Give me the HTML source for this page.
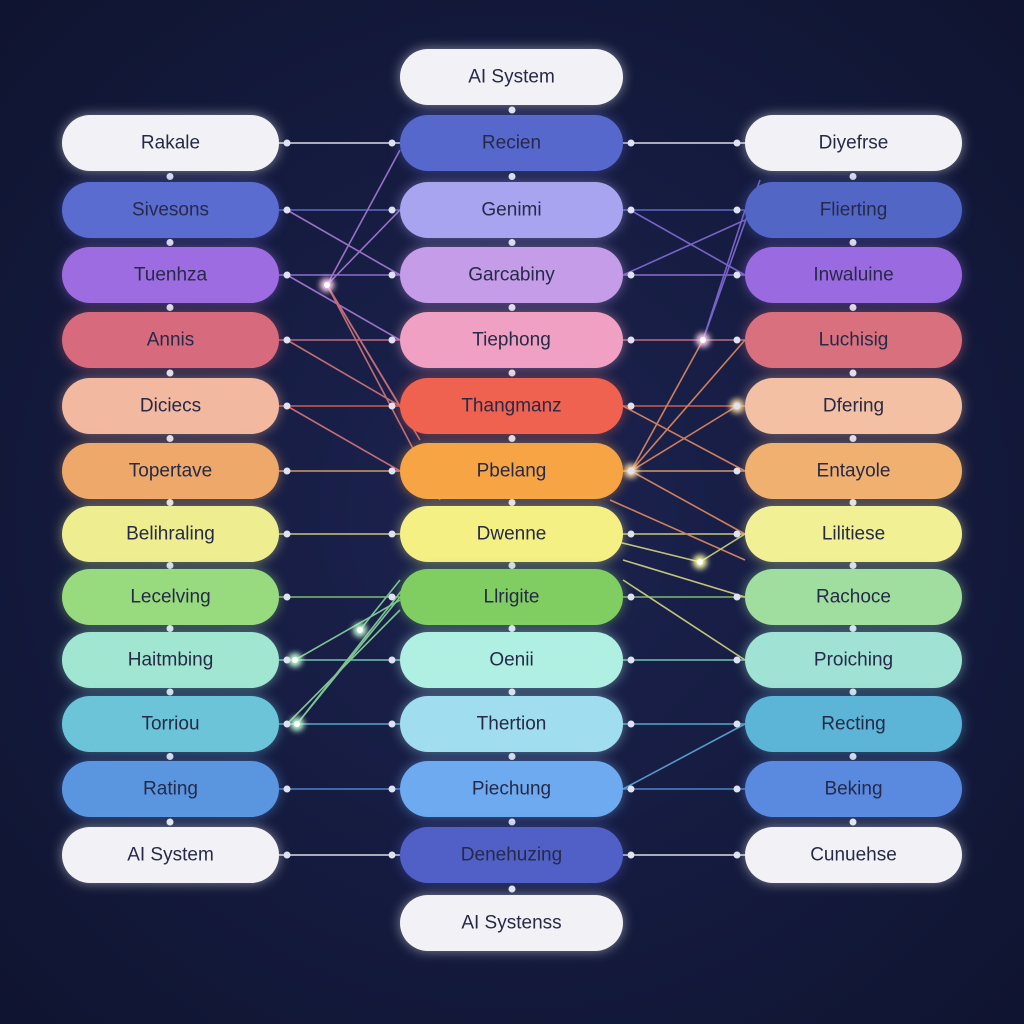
<!DOCTYPE html>
<html><head><meta charset="utf-8"><style>
html,body{margin:0;padding:0;background:#131937;}
svg{display:block}
text{font-family:"Liberation Sans",sans-serif;font-size:19px;fill:#262a48;text-anchor:middle;dominant-baseline:central}
</style></head><body>
<svg width="1024" height="1024" viewBox="0 0 1024 1024" xmlns="http://www.w3.org/2000/svg">
<defs>
<radialGradient id="bg" cx="50%" cy="50%" r="70%"><stop offset="0" stop-color="#1c2350"/><stop offset="1" stop-color="#0f1430"/></radialGradient>
<filter id="gl" x="-20%" y="-50%" width="140%" height="200%"><feGaussianBlur stdDeviation="6"/></filter>
<filter id="dg" x="-200%" y="-200%" width="500%" height="500%"><feGaussianBlur stdDeviation="3"/></filter>
</defs>
<rect width="1024" height="1024" fill="url(#bg)"/>
<g id="lines" stroke-width="1.6" fill="none" opacity="0.85">
<line x1="279" y1="143" x2="400" y2="143" stroke="#ffffff"/>
<line x1="623" y1="143" x2="745" y2="143" stroke="#ffffff"/>
<line x1="279" y1="210" x2="400" y2="210" stroke="#6a78e0"/>
<line x1="623" y1="210" x2="745" y2="210" stroke="#6a78e0"/>
<line x1="279" y1="275" x2="400" y2="275" stroke="#a47ae8"/>
<line x1="623" y1="275" x2="745" y2="275" stroke="#a47ae8"/>
<line x1="279" y1="340" x2="400" y2="340" stroke="#e07890"/>
<line x1="623" y1="340" x2="745" y2="340" stroke="#e07890"/>
<line x1="279" y1="406" x2="400" y2="406" stroke="#f06a50"/>
<line x1="623" y1="406" x2="745" y2="406" stroke="#f06a50"/>
<line x1="279" y1="471" x2="400" y2="471" stroke="#f0b070"/>
<line x1="623" y1="471" x2="745" y2="471" stroke="#f0b070"/>
<line x1="279" y1="534" x2="400" y2="534" stroke="#e8e880"/>
<line x1="623" y1="534" x2="745" y2="534" stroke="#e8e880"/>
<line x1="279" y1="597" x2="400" y2="597" stroke="#90d870"/>
<line x1="623" y1="597" x2="745" y2="597" stroke="#90d870"/>
<line x1="279" y1="660" x2="400" y2="660" stroke="#80e0c8"/>
<line x1="623" y1="660" x2="745" y2="660" stroke="#80e0c8"/>
<line x1="279" y1="724" x2="400" y2="724" stroke="#60c0e0"/>
<line x1="623" y1="724" x2="745" y2="724" stroke="#60c0e0"/>
<line x1="279" y1="789" x2="400" y2="789" stroke="#5a98e0"/>
<line x1="623" y1="789" x2="745" y2="789" stroke="#5a98e0"/>
<line x1="279" y1="855" x2="400" y2="855" stroke="#ffffff"/>
<line x1="623" y1="855" x2="745" y2="855" stroke="#ffffff"/>
<!-- diagonals left -->
<g stroke="#b080e0">
<line x1="327" y1="285" x2="400" y2="150"/><line x1="327" y1="285" x2="400" y2="210"/>
<line x1="287" y1="275" x2="400" y2="340"/><line x1="287" y1="210" x2="400" y2="275"/>
</g>
<g stroke="#e07a80">
<line x1="327" y1="285" x2="400" y2="406"/><line x1="327" y1="285" x2="420" y2="440"/>
<line x1="287" y1="340" x2="400" y2="406"/><line x1="287" y1="406" x2="400" y2="471"/>
<line x1="327" y1="285" x2="440" y2="500"/>
</g>
<g stroke="#90e0a0">
<line x1="297" y1="724" x2="400" y2="597"/><line x1="297" y1="724" x2="410" y2="580"/>
<line x1="287" y1="724" x2="400" y2="610"/><line x1="360" y1="630" x2="400" y2="580"/>
<line x1="295" y1="660" x2="400" y2="600"/>
</g>
<!-- diagonals right -->
<g stroke="#8a70e0">
<line x1="703" y1="340" x2="745" y2="210"/><line x1="630" y1="210" x2="745" y2="275"/>
<line x1="703" y1="340" x2="760" y2="180"/><line x1="623" y1="275" x2="745" y2="220"/>
</g>
<g stroke="#f09060">
<line x1="631" y1="471" x2="703" y2="340"/><line x1="631" y1="471" x2="737" y2="406"/>
<line x1="631" y1="471" x2="745" y2="534"/><line x1="631" y1="471" x2="745" y2="340"/>
<line x1="610" y1="500" x2="745" y2="560"/><line x1="623" y1="406" x2="745" y2="471"/>
</g>
<g stroke="#e0e080">
<line x1="700" y1="562" x2="745" y2="534"/><line x1="623" y1="560" x2="745" y2="597"/>
<line x1="623" y1="580" x2="745" y2="660"/><line x1="700" y1="562" x2="610" y2="540"/>
</g>
<line x1="623" y1="789" x2="745" y2="724" stroke="#60b0e0"/>
</g>
<!-- glow dots -->
<g fill="#ffffff">
<circle cx="327" cy="285" r="7" filter="url(#dg)" fill="#ffd0f0"/><circle cx="327" cy="285" r="3"/>
<circle cx="703" cy="340" r="7" filter="url(#dg)" fill="#ffd0f0"/><circle cx="703" cy="340" r="3"/>
<circle cx="631" cy="471" r="7" filter="url(#dg)" fill="#ffe0a0"/><circle cx="631" cy="471" r="3"/>
<circle cx="737" cy="406" r="7" filter="url(#dg)" fill="#ffe0a0"/><circle cx="737" cy="406" r="3"/>
<circle cx="700" cy="562" r="7" filter="url(#dg)" fill="#ffffa0"/><circle cx="700" cy="562" r="3"/>
<circle cx="360" cy="630" r="7" filter="url(#dg)" fill="#c0ffd0"/><circle cx="360" cy="630" r="3"/>
<circle cx="295" cy="660" r="7" filter="url(#dg)" fill="#c0ffd0"/><circle cx="295" cy="660" r="3"/>
<circle cx="297" cy="724" r="7" filter="url(#dg)" fill="#c0ffd0"/><circle cx="297" cy="724" r="3"/>
</g>
<g id="pills"></g>
</svg>
<script>
const rows=[143,210,275,340,406,471,534,597,660,724,789,855];
const L=[["Rakale","#f2f2f6"],["Sivesons","#5a6cd0"],["Tuenhza","#9c6ce0"],["Annis","#d86a7e"],["Diciecs","#f2b8a0"],["Topertave","#eea86a"],["Belihraling","#eeee90"],["Lecelving","#98da7e"],["Haitmbing","#a0e6d0"],["Torriou","#6cc4d8"],["Rating","#5a96e0"],["AI System","#f2f2f6"]];
const C=[["Recien","#5668cc"],["Genimi","#a8a4f0"],["Garcabiny","#c49ce8"],["Tiephong","#f0a0c2"],["Thangmanz","#f06250"],["Pbelang","#f6a444"],["Dwenne","#f4f084"],["Llrigite","#80ce62"],["Oenii","#b0f0e2"],["Thertion","#a0deef"],["Piechung","#6eaaf0"],["Denehuzing","#5060c6"]];
const R=[["Diyefrse","#f2f2f6"],["Flierting","#5266c6"],["Inwaluine","#9a6ae0"],["Luchisig","#d8707e"],["Dfering","#f4c0a4"],["Entayole","#f0b070"],["Lilitiese","#f2f094"],["Rachoce","#a0dea0"],["Proiching","#a0e2d4"],["Recting","#5cb4d6"],["Beking","#5a8ae0"],["Cunuehse","#f2f2f6"]];
const g=document.getElementById('pills');const NS="http://www.w3.org/2000/svg";
function pill(x,w,cy,t,c){
 const gl=document.createElementNS(NS,'rect');Object.entries({x:x,y:cy-28,width:w,height:56,rx:28,fill:c,opacity:.5,filter:"url(#gl)"}).forEach(([k,v])=>gl.setAttribute(k,v));g.appendChild(gl);
 const r=document.createElementNS(NS,'rect');Object.entries({x:x,y:cy-28,width:w,height:56,rx:28,fill:c}).forEach(([k,v])=>r.setAttribute(k,v));g.appendChild(r);
 const tx=document.createElementNS(NS,'text');tx.setAttribute('x',x+w/2);tx.setAttribute('y',cy);tx.textContent=t;g.appendChild(tx);
}
function dot(x,y,c){const d=document.createElementNS(NS,'circle');d.setAttribute('cx',x);d.setAttribute('cy',y);d.setAttribute('r',3.5);d.setAttribute('fill',c||'#dfe2f0');g.appendChild(d);}
rows.forEach((y,i)=>{pill(62,217,y,L[i][0],L[i][1]);pill(400,223,y,C[i][0],C[i][1]);pill(745,217,y,R[i][0],R[i][1]);
 dot(287,y);dot(392,y);dot(631,y);dot(737,y);
 if(i<11){const m=(y+rows[i+1])/2;dot(170,m);dot(512,m);dot(853,m);}});
pill(400,223,77,"AI System","#f2f2f6");pill(400,223,923,"AI Systenss","#f2f2f6");
dot(512,110);dot(512,889);
</script>
</body></html>
